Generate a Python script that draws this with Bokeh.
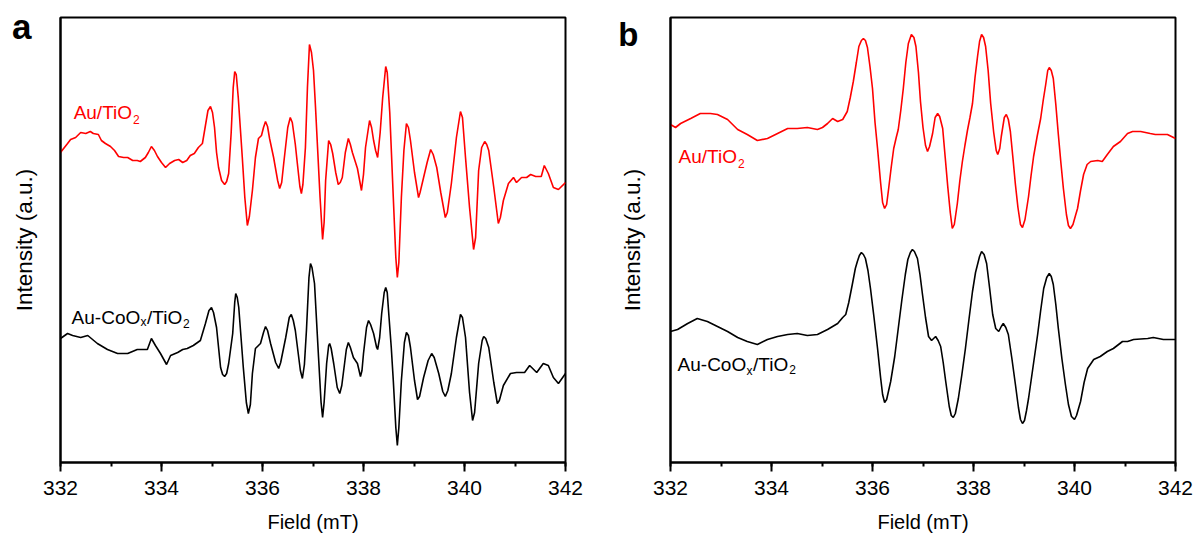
from bokeh.plotting import figure
from bokeh.layouts import row
from bokeh.models import Range1d, SingleIntervalTicker, FixedTicker, Label
from bokeh.embed import file_html
from bokeh.resources import INLINE

# ---------------- Panel a ----------------
field_a_au = [332.00, 332.14, 332.20, 332.30, 332.40, 332.50, 332.59, 332.65, 332.75, 332.81,
              332.89, 332.99, 333.07, 333.15, 333.25, 333.33, 333.43, 333.52, 333.58, 333.68,
              333.74, 333.80, 333.86, 333.92, 334.00, 334.08, 334.16, 334.26, 334.34, 334.42,
              334.50, 334.57, 334.65, 334.73, 334.81, 334.87, 334.92, 334.97, 335.01, 335.05,
              335.09, 335.13, 335.19, 335.25, 335.29, 335.33, 335.38, 335.42, 335.45, 335.48,
              335.52, 335.56, 335.60, 335.65, 335.70, 335.74, 335.80, 335.86, 335.92, 335.98,
              336.02, 336.06, 336.10, 336.14, 336.22, 336.30, 336.34, 336.38, 336.42, 336.50,
              336.55, 336.59, 336.65, 336.69, 336.74, 336.77, 336.80, 336.85, 336.89, 336.93,
              336.97, 337.01, 337.05, 337.09, 337.14, 337.19, 337.22, 337.25, 337.31, 337.35,
              337.39, 337.45, 337.50, 337.54, 337.58, 337.64, 337.70, 337.74, 337.78, 337.88,
              337.96, 338.00, 338.04, 338.12, 338.16, 338.20, 338.24, 338.28, 338.33, 338.38,
              338.44, 338.47, 338.52, 338.59, 338.64, 338.67, 338.70, 338.75, 338.80, 338.85,
              338.89, 338.93, 339.01, 339.09, 339.12, 339.19, 339.26, 339.33, 339.38, 339.45,
              339.53, 339.62, 339.66, 339.74, 339.84, 339.92, 339.96, 340.02, 340.10, 340.18,
              340.22, 340.28, 340.34, 340.40, 340.44, 340.48, 340.58, 340.67, 340.71, 340.77,
              340.87, 340.97, 341.03, 341.13, 341.23, 341.31, 341.41, 341.52, 341.58, 341.66,
              341.76, 341.86, 342.00]
int_a_au = [310, 319, 323, 325, 330, 329, 331, 329, 328, 322,
            319, 316, 312, 306, 305, 305, 302, 302, 301, 305,
            310, 316, 312, 306, 300, 295, 299, 302, 303, 300,
            302, 307, 309, 315, 319, 337, 352, 356, 350, 335,
            310, 295, 282, 278, 281, 289, 330, 375, 391, 388,
            365, 335, 305, 265, 237, 246, 272, 305, 324, 327,
            335, 341, 336, 324, 305, 282, 274, 280, 299, 335,
            345, 340, 318, 299, 276, 269, 278, 315, 375, 418,
            410, 392, 355, 315, 265, 223, 240, 282, 322, 318,
            309, 290, 278, 280, 285, 310, 324, 318, 310, 294,
            272, 288, 315, 342, 335, 322, 312, 305, 330, 365,
            396, 390, 350, 265, 205, 185, 200, 265, 312, 339,
            335, 322, 290, 265, 270, 285, 300, 313, 308, 295,
            270, 245, 250, 279, 325, 351, 345, 305, 255, 213,
            225, 292, 315, 321, 318, 312, 275, 239, 245, 262,
            279, 285, 280, 285, 285, 288, 286, 286, 297, 289,
            275, 273, 280]

field_a_co = [332.00, 332.14, 332.24, 332.40, 332.54, 332.73, 332.93, 333.13, 333.33, 333.52,
              333.72, 333.80, 333.88, 333.98, 334.10, 334.18, 334.32, 334.42, 334.51, 334.63,
              334.77, 334.87, 334.94, 334.99, 335.03, 335.09, 335.17, 335.21, 335.25, 335.29,
              335.33, 335.41, 335.45, 335.47, 335.50, 335.53, 335.62, 335.68, 335.72, 335.76,
              335.80, 335.86, 335.96, 336.02, 336.06, 336.10, 336.16, 336.26, 336.32, 336.36,
              336.46, 336.53, 336.57, 336.61, 336.65, 336.75, 336.79, 336.83, 336.87, 336.92,
              336.95, 336.98, 337.03, 337.11, 337.16, 337.19, 337.22, 337.27, 337.31, 337.33,
              337.36, 337.41, 337.48, 337.53, 337.57, 337.60, 337.66, 337.70, 337.74, 337.80,
              337.88, 337.94, 337.97, 338.00, 338.06, 338.10, 338.14, 338.20, 338.26, 338.28,
              338.32, 338.36, 338.41, 338.44, 338.47, 338.50, 338.55, 338.59, 338.64, 338.67,
              338.70, 338.75, 338.81, 338.85, 338.89, 338.93, 339.01, 339.07, 339.11, 339.19,
              339.28, 339.35, 339.40, 339.49, 339.57, 339.62, 339.67, 339.74, 339.84, 339.92,
              339.96, 340.02, 340.10, 340.16, 340.20, 340.28, 340.35, 340.38, 340.42, 340.48,
              340.58, 340.65, 340.69, 340.77, 340.91, 341.03, 341.13, 341.19, 341.29, 341.43,
              341.56, 341.66, 341.76, 341.86, 342.00]
int_a_co = [124, 129, 127, 125, 127, 119, 113, 109, 109, 113,
            113, 124, 117, 109, 98, 107, 110, 113, 114, 117,
            122, 139, 152, 155, 150, 135, 95, 88, 86, 89,
            99, 129, 160, 169, 165, 155, 95, 60, 49, 58,
            89, 114, 119, 130, 136, 132, 119, 100, 94, 100,
            125, 145, 148, 142, 132, 92, 84, 98, 132, 185,
            199, 195, 179, 105, 60, 45, 60, 99, 117, 119,
            114, 99, 75, 69, 77, 89, 113, 120, 115, 105,
            99, 86, 92, 109, 135, 142, 138, 129, 115, 113,
            125, 149, 170, 175, 170, 149, 115, 82, 35, 17,
            35, 82, 120, 130, 127, 115, 82, 63, 66, 85,
            102, 109, 105, 89, 71, 66, 72, 89, 125, 148,
            145, 125, 70, 42, 50, 99, 122, 126, 124, 115,
            80, 59, 62, 77, 89, 90, 90, 90, 97, 90,
            99, 97, 85, 79, 89]

# ---------------- Panel b ----------------
field_b_au = [332.00, 332.10, 332.20, 332.40, 332.59, 332.79, 332.93, 333.13, 333.33, 333.52,
              333.72, 333.92, 334.12, 334.32, 334.51, 334.71, 334.91, 335.01, 335.11, 335.21,
              335.31, 335.41, 335.50, 335.56, 335.62, 335.68, 335.73, 335.78, 335.82, 335.86,
              335.90, 335.95, 336.00, 336.05, 336.10, 336.16, 336.20, 336.24, 336.28, 336.32,
              336.37, 336.42, 336.47, 336.51, 336.56, 336.61, 336.66, 336.71, 336.77, 336.82,
              336.86, 336.91, 336.95, 337.00, 337.05, 337.09, 337.13, 337.19, 337.24, 337.29,
              337.33, 337.39, 337.44, 337.49, 337.54, 337.58, 337.62, 337.68, 337.73, 337.78,
              337.83, 337.88, 337.93, 337.98, 338.03, 338.08, 338.12, 338.16, 338.20, 338.24,
              338.29, 338.34, 338.40, 338.45, 338.48, 338.52, 338.55, 338.61, 338.65, 338.69,
              338.73, 338.78, 338.83, 338.88, 338.93, 338.97, 339.02, 339.09, 339.14, 339.19,
              339.26, 339.33, 339.38, 339.43, 339.47, 339.50, 339.54, 339.58, 339.63, 339.68,
              339.73, 339.78, 339.84, 339.88, 339.92, 339.97, 340.02, 340.06, 340.12, 340.18,
              340.25, 340.32, 340.46, 340.55, 340.65, 340.77, 340.91, 341.05, 341.15, 341.31,
              341.50, 341.60, 341.70, 341.84, 342.00]
int_b_au = [338, 335, 339, 344, 349, 349, 348, 343, 333, 328,
            322, 324, 329, 334, 334, 335, 333, 335, 339, 344,
            341, 343, 351, 365, 381, 400, 416, 422, 424, 422,
            415, 396, 374, 340, 314, 280, 260, 254, 258, 274,
            295, 314, 325, 333, 352, 374, 400, 419, 428, 425,
            416, 390, 361, 335, 317, 311, 316, 329, 345, 349,
            346, 334, 305, 276, 250, 234, 238, 259, 282, 301,
            317, 332, 345, 359, 385, 406, 421, 428, 425, 416,
            392, 359, 330, 312, 308, 314, 326, 345, 348, 343,
            331, 305, 278, 255, 238, 235, 243, 266, 287, 306,
            326, 344, 362, 378, 392, 395, 392, 384, 358, 328,
            300, 274, 248, 237, 234, 238, 247, 254, 272, 288,
            298, 301, 302, 301, 308, 316, 321, 329, 331, 331,
            329, 328, 328, 328, 324]

field_b_co = [332.00, 332.14, 332.34, 332.53, 332.73, 332.93, 333.13, 333.33, 333.52, 333.72,
              333.92, 334.12, 334.32, 334.51, 334.71, 334.91, 335.11, 335.31, 335.41, 335.47,
              335.53, 335.60, 335.66, 335.70, 335.74, 335.78, 335.82, 335.86, 335.91, 335.96,
              336.03, 336.10, 336.16, 336.20, 336.24, 336.28, 336.32, 336.36, 336.44, 336.51,
              336.58, 336.65, 336.70, 336.75, 336.79, 336.83, 336.89, 336.94, 336.99, 337.05,
              337.11, 337.17, 337.21, 337.25, 337.30, 337.35, 337.40, 337.45, 337.52, 337.56,
              337.60, 337.64, 337.70, 337.77, 337.84, 337.91, 337.98, 338.04, 338.08, 338.12,
              338.16, 338.21, 338.26, 338.32, 338.38, 338.44, 338.50, 338.55, 338.59, 338.64,
              338.69, 338.76, 338.83, 338.89, 338.93, 338.97, 339.01, 339.05, 339.09, 339.18,
              339.27, 339.33, 339.39, 339.45, 339.50, 339.54, 339.58, 339.63, 339.68, 339.75,
              339.82, 339.88, 339.94, 340.00, 340.04, 340.12, 340.19, 340.26, 340.38, 340.51,
              340.65, 340.77, 340.95, 341.05, 341.17, 341.45, 341.56, 341.76, 342.00]
int_b_co = [131, 133, 139, 144, 141, 136, 131, 125, 121, 118,
            123, 126, 128, 129, 127, 128, 133, 139, 145, 148,
            160, 178, 194, 201, 207, 210, 208, 204, 192, 174,
            145, 114, 85, 68, 60, 63, 72, 81, 106, 134,
            162, 188, 203, 210, 213, 211, 204, 188, 168, 145,
            126, 122, 124, 126, 122, 116, 100, 81, 56, 47,
            45, 49, 64, 88, 114, 143, 171, 190, 198, 206,
            211, 208, 199, 174, 148, 134, 131, 136, 139, 135,
            128, 104, 78, 55, 43, 39, 42, 52, 64, 96,
            128, 152, 174, 185, 189, 186, 178, 158, 134, 104,
            78, 58, 46, 43, 47, 61, 80, 94, 103, 106,
            111, 114, 121, 121, 123, 124, 125, 123, 123]

x_ticks_major = 2
x_start, x_end = 332, 342
y_start, y_end = 0, 445

FONT = "Liberation Sans"
RED = "#ff0000"


def make_panel(width, left, right, letter, letter_y, letter_size, letter_standoff, label_standoff):
    p = figure(width=width, height=539, x_range=Range1d(x_start, x_end),
               y_range=Range1d(y_start, y_end), output_backend="svg",
               toolbar_location=None, min_border_left=left, min_border_right=right,
               min_border_top=17, min_border_bottom=77)
    p.grid.visible = False
    p.background_fill_color = "white"
    p.border_fill_color = "white"
    p.outline_line_color = "black"
    p.outline_line_width = 2
    p.outline_line_alpha = 1.0

    xa = p.xaxis[0]
    xa.ticker = SingleIntervalTicker(interval=x_ticks_major, num_minor_ticks=2)
    xa.axis_line_width = 2
    xa.axis_line_color = "black"
    xa.major_tick_line_width = 2
    xa.minor_tick_line_width = 2
    xa.major_tick_out = 9
    xa.major_tick_in = 0
    xa.minor_tick_out = 4
    xa.minor_tick_in = 0
    xa.major_label_text_font = FONT
    xa.major_label_text_font_size = "21px"
    xa.major_label_text_color = "black"
    xa.major_label_standoff = 9
    xa.axis_label = "Field (mT)"
    xa.axis_label_text_font = FONT
    xa.axis_label_text_font_size = "20px"
    xa.axis_label_text_font_style = "normal"
    xa.axis_label_text_color = "black"
    xa.axis_label_standoff = 13

    # left axis: no ticks; its single tick label carries the panel letter
    ya = p.yaxis[0]
    ya.ticker = FixedTicker(ticks=[letter_y])
    ya.major_label_overrides = {letter_y: letter}
    ya.axis_line_width = 2
    ya.axis_line_color = "black"
    ya.major_tick_out = 0
    ya.major_tick_in = 0
    ya.minor_tick_out = 0
    ya.minor_tick_in = 0
    ya.major_tick_line_color = None
    ya.minor_tick_line_color = None
    ya.major_label_text_font = FONT
    ya.major_label_text_font_size = letter_size
    ya.major_label_text_font_style = "bold"
    ya.major_label_text_color = "black"
    ya.major_label_standoff = letter_standoff
    ya.axis_label = "Intensity (a.u.)"
    ya.axis_label_text_font = FONT
    ya.axis_label_text_font_size = "22.5px"
    ya.axis_label_text_font_style = "normal"
    ya.axis_label_text_color = "black"
    ya.axis_label_standoff = label_standoff
    return p


def add_text(p, x, y, text, color, size, style="normal"):
    p.add_layout(Label(x=x, y=y, text=text,
                       text_color=color, text_font=FONT, text_font_size=size,
                       text_font_style=style, text_baseline="alphabetic",
                       text_align="left"))


pa = make_panel(608, 60, 43, "a", 436, "35px", 29, -28)
pa.line(field_a_au, int_a_au, line_color=RED, line_width=1.6)
pa.line(field_a_co, int_a_co, line_color="black", line_width=1.6)
add_text(pa, 332.26, 350, "Au/TiO", RED, "19px")
add_text(pa, 333.436, 343, "2", RED, "12px")
add_text(pa, 332.22, 145, "Au-CoO", "black", "19px")
add_text(pa, 333.584, 141, "x", "black", "12px")
add_text(pa, 333.713, 145, "/TiO", "black", "19px")
add_text(pa, 334.426, 139, "2", "black", "12px")

pb = make_panel(587, 62, 20, "b", 428, "33px", 32, -30)
pb.line(field_b_au, int_b_au, line_color=RED, line_width=1.6)
pb.line(field_b_co, int_b_co, line_color="black", line_width=1.6)
add_text(pb, 332.16, 306, "Au/TiO", RED, "19px")
add_text(pb, 333.337, 299, "2", RED, "12px")
add_text(pb, 332.14, 98, "Au-CoO", "black", "19px")
add_text(pb, 333.505, 92, "x", "black", "12px")
add_text(pb, 333.634, 98, "/TiO", "black", "19px")
add_text(pb, 334.35, 93, "2", "black", "12px")

layout = row(pa, pb)
open("out.html", "w").write(file_html(layout, INLINE))
